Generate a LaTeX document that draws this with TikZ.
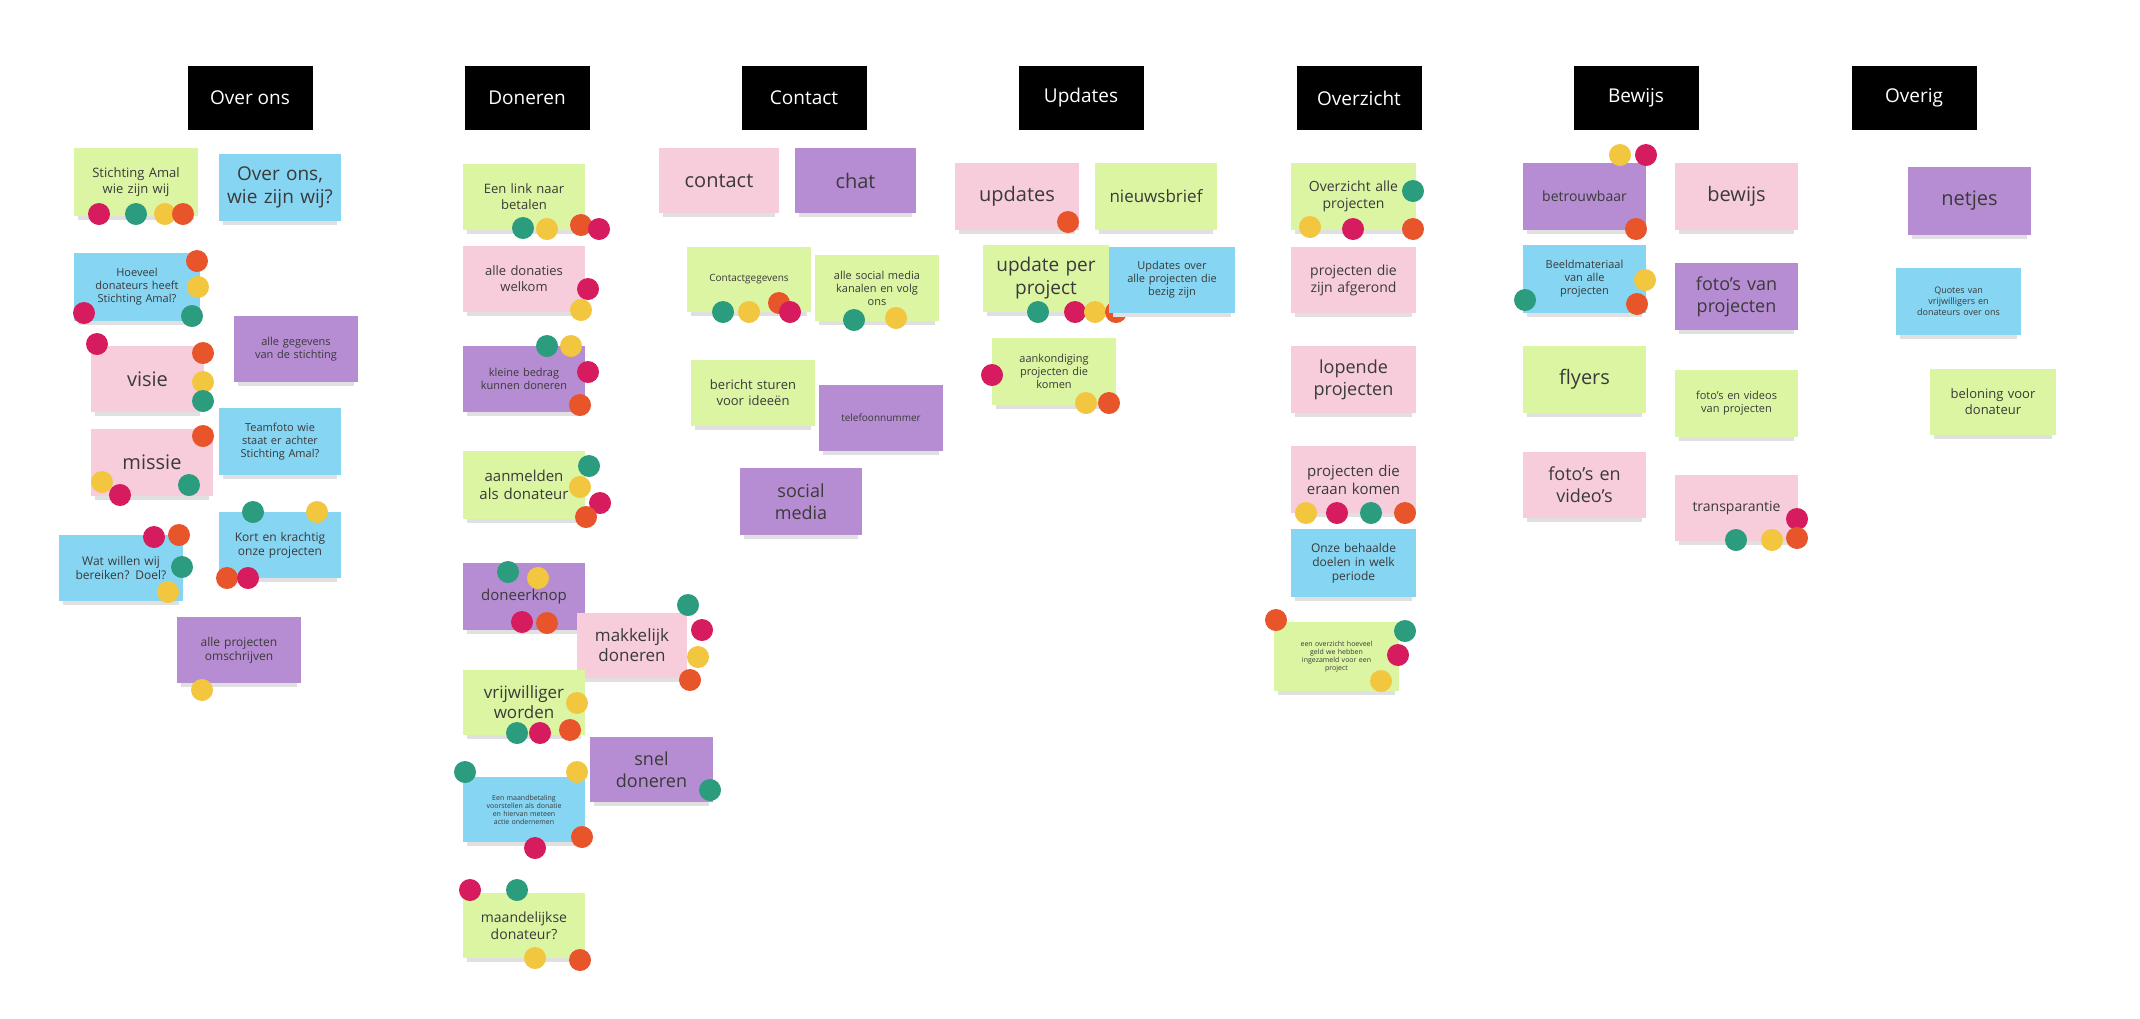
\documentclass[tikz,border=0pt]{standalone}
\usepackage{fontspec}
\setmainfont{Open Sans}
\usetikzlibrary{calc}

\definecolor{pgreen}{HTML}{DCF5A3}
\definecolor{pblue}{HTML}{86D5F2}
\definecolor{ppink}{HTML}{F7CCDB}
\definecolor{ppurple}{HTML}{B68DD2}
\definecolor{dred}{HTML}{D61C5E}
\definecolor{dteal}{HTML}{2B9C7E}
\definecolor{dyellow}{HTML}{F3C63F}
\definecolor{dorange}{HTML}{E8552B}
\definecolor{inkgray}{HTML}{3A3A3A}

\newcommand\fs[1]{\fontsize{#1}{\numexpr#1*6/5\relax}\selectfont}
% note: name, colour, x1, x2, y1, y2, font size, text
\newcommand\note[8]{%
  \fill[black!12] (#3+4,#6-2) rectangle (#4-4,#6+4);
  \node[note, fill=#2, minimum width={(#4-#3)*1pt}, minimum height={(#6-#5)*1pt},
        text width={(#4-#3-8)*1pt}, font=\fs{#7}] (#1) at ({(#3+#4)/2},{(#5+#6)/2}) {#8};}
\newcommand\pin[3]{\fill[#1] (#2,#3) circle[radius=11];}

\tikzset{
  note/.style={rectangle, inner sep=2pt, align=center, text=inkgray},
  header/.style={rectangle, fill=black, text=white, minimum width=125pt,
                 minimum height=64pt, font=\fs{19}},
}

\begin{document}
\begin{tikzpicture}[x=1pt,y=-1pt]
    \useasboundingbox (0,0) rectangle (2140,1018);
    \fill[white] (0,0) rectangle (2140,1018);

    % column headers
    \node[header] (hover) at (250,98) {Over ons};
    \node[header] (hdon) at (527,98) {Doneren};
    \node[header] (hcon) at (804,98) {Contact};
    \node[header] (hupd) at (1081,98) {Updates};
    \node[header] (hovz) at (1359,98) {Overzicht};
    \node[header] (hbew) at (1636,98) {Bewijs};
    \node[header] (hovr) at (1914,98) {Overig};

    % Over ons
    \note{so1}{pgreen}{74}{198}{148}{216}{13}{Stichting Amal\\wie zijn wij}
    \pin{dred}{99}{214}\pin{dteal}{136}{214}\pin{dyellow}{165}{214}\pin{dorange}{183}{214}
    \note{so2}{pblue}{219}{341}{154}{221}{19}{Over ons,\\wie zijn wij?}
    \note{so3}{pblue}{74}{200}{253}{321}{11}{Hoeveel\\donateurs heeft\\Stichting Amal?}
    \pin{dorange}{197}{261}\pin{dyellow}{198}{287}\pin{dred}{84}{313}\pin{dteal}{192}{316}
    \note{so4}{ppink}{91}{204}{346}{412}{20}{visie}
    \pin{dred}{97}{344}\pin{dorange}{203}{353}\pin{dyellow}{203}{382}\pin{dteal}{203}{401}
    \note{so5}{ppurple}{234}{358}{316}{382}{11}{alle gegevens\\van de stichting}
    \note{so6}{pblue}{219}{341}{408}{475}{11}{Teamfoto wie\\staat er achter\\Stichting Amal?}
    \note{so7}{ppink}{91}{213}{429}{496}{20}{missie}
    \pin{dorange}{203}{436}\pin{dyellow}{102}{482}\pin{dred}{120}{495}\pin{dteal}{189}{485}
    \note{so8}{pblue}{59}{183}{535}{601}{12}{Wat willen wij\\bereiken? Doel?}
    \pin{dred}{154}{537}\pin{dorange}{179}{535}\pin{dteal}{182}{567}\pin{dyellow}{168}{592}
    \note{so9}{pblue}{219}{341}{512}{578}{12}{Kort en krachtig\\onze projecten}
    \pin{dteal}{253}{512}\pin{dyellow}{317}{512}\pin{dorange}{227}{578}\pin{dred}{248}{578}
    \note{so10}{ppurple}{177}{301}{617}{683}{12}{alle projecten\\omschrijven}
    \pin{dyellow}{202}{690}

    % Doneren
    \note{dn1}{pgreen}{463}{585}{164}{230}{13}{Een link naar\\betalen}
    \pin{dteal}{523}{228}\pin{dyellow}{547}{229}\pin{dorange}{581}{225}\pin{dred}{599}{229}
    \note{dn2}{ppink}{463}{585}{246}{312}{13}{alle donaties\\welkom}
    \pin{dred}{588}{289}\pin{dyellow}{581}{310}
    \note{dn3}{ppurple}{463}{585}{346}{412}{11}{kleine bedrag\\kunnen doneren}
    \pin{dteal}{547}{346}\pin{dyellow}{571}{346}\pin{dred}{588}{372}\pin{dorange}{580}{405}
    \note{dn4}{pgreen}{463}{585}{451}{519}{15}{aanmelden\\als donateur}
    \pin{dteal}{589}{466}\pin{dyellow}{580}{487}\pin{dred}{600}{503}\pin{dorange}{586}{517}
    \note{dn5}{ppurple}{463}{585}{563}{630}{15}{doneerknop}
    \pin{dteal}{508}{572}\pin{dyellow}{538}{578}\pin{dred}{522}{622}\pin{dorange}{547}{623}
    \note{dn6}{ppink}{577}{687}{613}{678}{17}{makkelijk\\doneren}
    \pin{dteal}{688}{605}\pin{dred}{702}{630}\pin{dyellow}{698}{657}\pin{dorange}{690}{680}
    \note{dn7}{pgreen}{463}{585}{670}{735}{17}{vrijwilliger\\worden}
    \pin{dyellow}{577}{703}\pin{dorange}{570}{730}\pin{dred}{540}{733}\pin{dteal}{517}{733}
    \note{dn8}{ppurple}{590}{713}{737}{802}{18}{snel\\doneren}
    \pin{dteal}{710}{790}
    \note{dn9}{pblue}{463}{585}{777}{842}{7}{Een maandbetaling\\voorstellen als donatie\\en hiervan meteen\\actie ondernemen}
    \pin{dteal}{465}{772}\pin{dyellow}{577}{772}\pin{dorange}{582}{837}\pin{dred}{535}{848}
    \note{dn10}{pgreen}{463}{585}{893}{958}{14}{maandelijkse\\donateur?}
    \pin{dred}{470}{890}\pin{dteal}{517}{890}\pin{dyellow}{535}{958}\pin{dorange}{580}{960}

    % Contact
    \note{ct1}{ppink}{659}{779}{148}{213}{20}{contact}
    \note{ct2}{ppurple}{795}{916}{148}{213}{20}{chat}
    \note{ct3}{pgreen}{687}{811}{247}{312}{10}{Contactgegevens}
    \pin{dteal}{723}{312}\pin{dyellow}{749}{312}\pin{dorange}{779}{303}\pin{dred}{790}{312}
    \note{ct4}{pgreen}{815}{939}{255}{321}{11}{alle social media\\kanalen en volg\\ons}
    \pin{dteal}{854}{320}\pin{dyellow}{896}{318}
    \note{ct5}{pgreen}{691}{815}{360}{426}{13}{bericht sturen\\voor ideeën}
    \note{ct6}{ppurple}{819}{943}{385}{451}{10}{telefoonnummer}
    \note{ct7}{ppurple}{740}{862}{468}{535}{18}{social\\media}

    % Updates
    \note{up1}{ppink}{955}{1079}{163}{230}{20}{updates}
    \pin{dorange}{1068}{222}
    \note{up2}{pgreen}{1095}{1217}{163}{230}{17}{nieuwsbrief}
    \note{up3}{pgreen}{983}{1109}{245}{312}{19}{update per\\project}
    \pin{dteal}{1038}{312}\pin{dred}{1075}{312}\pin{dyellow}{1095}{312}\pin{dorange}{1116}{312}
    \note{up4}{pblue}{1109}{1235}{247}{313}{11}{Updates over\\alle projecten die\\bezig zijn}
    \note{up5}{pgreen}{992}{1116}{338}{405}{11}{aankondiging\\projecten die\\komen}
    \pin{dred}{992}{375}\pin{dyellow}{1086}{403}\pin{dorange}{1109}{403}

    % Overzicht
    \note{ov1}{pgreen}{1291}{1416}{163}{230}{14}{Overzicht alle\\projecten}
    \pin{dteal}{1413}{191}\pin{dyellow}{1310}{227}\pin{dred}{1353}{229}\pin{dorange}{1413}{229}
    \note{ov2}{ppink}{1291}{1416}{247}{313}{14}{projecten die\\zijn afgerond}
    \note{ov3}{ppink}{1291}{1416}{346}{413}{18}{lopende\\projecten}
    \note{ov4}{ppink}{1291}{1416}{446}{513}{15}{projecten die\\eraan komen}
    \pin{dyellow}{1306}{513}\pin{dred}{1337}{513}\pin{dteal}{1371}{513}\pin{dorange}{1405}{513}
    \note{ov5}{pblue}{1291}{1416}{529}{597}{12}{Onze behaalde\\doelen in welk\\periode}
    \note{ov6}{pgreen}{1274}{1399}{622}{691}{7}{een overzicht hoeveel\\geld we hebben\\ingezameld voor een\\project}
    \pin{dorange}{1276}{620}\pin{dteal}{1405}{631}\pin{dred}{1398}{655}\pin{dyellow}{1381}{681}

    % Bewijs
    \note{bw1}{ppurple}{1523}{1646}{163}{230}{14}{betrouwbaar}
    \pin{dyellow}{1620}{155}\pin{dred}{1646}{155}\pin{dorange}{1636}{229}
    \note{bw2}{pblue}{1523}{1646}{245}{313}{11}{Beeldmateriaal\\van alle\\projecten}
    \pin{dyellow}{1645}{280}\pin{dorange}{1637}{304}\pin{dteal}{1525}{300}
    \note{bw3}{pgreen}{1523}{1646}{346}{413}{20}{flyers}
    \note{bw4}{ppink}{1523}{1646}{452}{518}{18}{foto's en\\video's}
    \note{bw5}{ppink}{1675}{1798}{163}{230}{20}{bewijs}
    \note{bw6}{ppurple}{1675}{1798}{263}{330}{18}{foto's van\\projecten}
    \note{bw7}{pgreen}{1675}{1798}{370}{437}{11}{foto's en videos\\van projecten}
    \note{bw8}{ppink}{1675}{1798}{475}{541}{14}{transparantie}
    \pin{dred}{1797}{519}\pin{dorange}{1797}{538}\pin{dyellow}{1772}{540}\pin{dteal}{1736}{540}

    % Overig
    \note{or1}{ppurple}{1908}{2031}{167}{235}{20}{netjes}
    \note{or2}{pblue}{1896}{2021}{268}{335}{9}{Quotes van\\vrijwilligers en\\donateurs over ons}
    \note{or3}{pgreen}{1930}{2056}{369}{435}{13}{beloning voor\\donateur}
\end{tikzpicture}
\end{document}
